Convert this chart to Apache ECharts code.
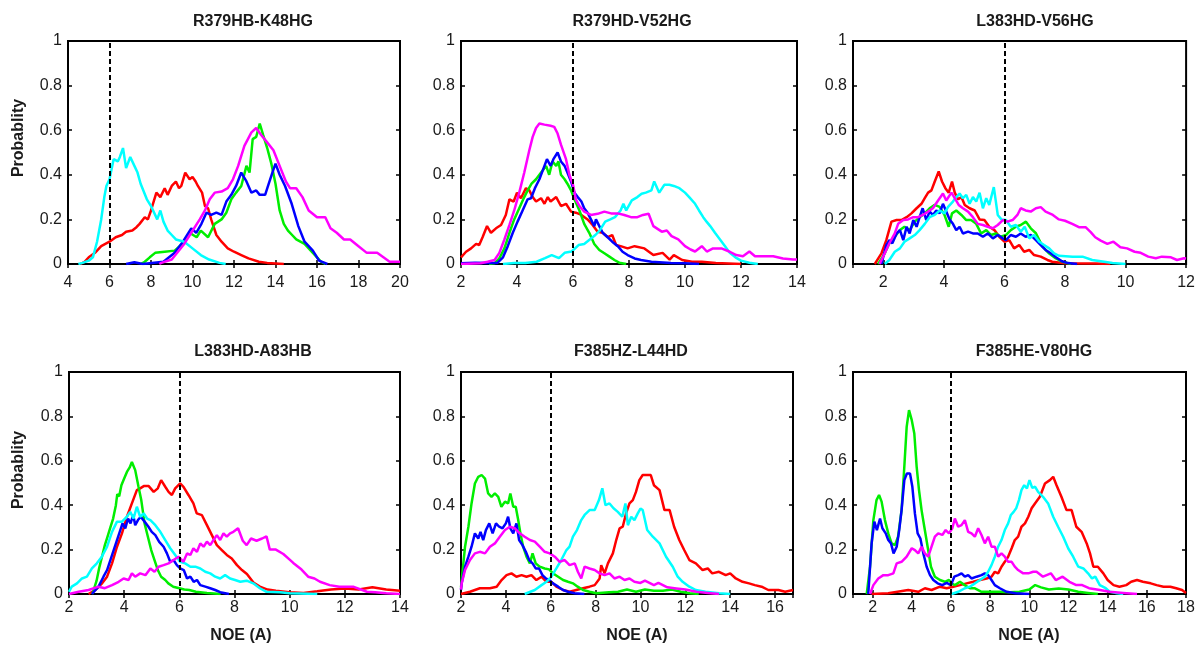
<!DOCTYPE html>
<html><head><meta charset="utf-8">
<script src="https://cdn.jsdelivr.net/npm/echarts@6/dist/echarts.min.js"></script>
<style>html,body{margin:0;padding:0;background:#fff}#c{width:1198px;height:645px}</style>
</head><body><div id="c"></div>
<script>
// ---------- data ----------
const titles = ['R379HB-K48HG','R379HD-V52HG','L383HD-V56HG','L383HD-A83HB','F385HZ-L44HD','F385HE-V80HG'];
const xMins = [4, 2, 1, 2, 2, 1];
const xMaxs = [20, 14, 12, 14, 16.8, 18];
const cutoff = 6;
const yLabel = 'Probablity';
const xLabel = 'NOE (A)';
const seriesNames = ['red','green','blue','cyan','magenta'];

const p1Red = [[4.6,0],[4.8,0.01],[5.0,0.03],[5.3,0.05],[5.6,0.08],[6.0,0.1],[6.3,0.12],[6.6,0.13],[6.8,0.145],[7.1,0.15],[7.3,0.165],[7.45,0.18],[7.7,0.21],[7.85,0.2],[8.0,0.24],[8.26,0.32],[8.45,0.3],[8.66,0.34],[8.8,0.31],[9.0,0.35],[9.2,0.37],[9.35,0.34],[9.46,0.35],[9.65,0.41],[9.86,0.38],[10.0,0.39],[10.15,0.37],[10.26,0.35],[10.46,0.32],[10.6,0.26],[10.75,0.25],[10.9,0.2],[11.15,0.13],[11.4,0.1],[11.7,0.07],[12.0,0.055],[12.35,0.04],[12.7,0.025],[13.2,0.01],[13.6,0.005],[14.4,0]];
const p1Green = [[7.5,0],[7.7,0.01],[7.94,0.03],[8.2,0.05],[8.66,0.055],[9.14,0.06],[9.5,0.09],[9.86,0.14],[10.2,0.12],[10.4,0.15],[10.75,0.12],[11.07,0.18],[11.4,0.2],[11.63,0.23],[11.87,0.29],[12.1,0.32],[12.35,0.35],[12.6,0.44],[12.75,0.41],[12.9,0.56],[13.07,0.57],[13.24,0.63],[13.4,0.58],[13.6,0.52],[13.8,0.45],[14.0,0.36],[14.2,0.24],[14.4,0.18],[14.6,0.15],[14.8,0.13],[15.0,0.11],[15.2,0.1],[15.4,0.09],[15.6,0.07],[15.8,0.05],[16.0,0.03],[16.2,0.01],[16.4,0]];
const p1Blue = [[6.8,0],[7.2,0.008],[7.6,0],[8.6,0.01],[9.14,0.05],[9.54,0.1],[9.94,0.16],[10.18,0.14],[10.43,0.18],[10.67,0.23],[10.9,0.22],[11.15,0.23],[11.4,0.22],[11.63,0.28],[11.87,0.31],[12.1,0.35],[12.35,0.41],[12.6,0.37],[12.84,0.32],[13.07,0.33],[13.24,0.31],[13.5,0.31],[13.64,0.35],[13.85,0.41],[14.0,0.45],[14.2,0.4],[14.46,0.35],[14.78,0.27],[15.1,0.17],[15.4,0.1],[15.8,0.06],[16.1,0.015],[16.5,0]];
const p1Cyan = [[4.5,0],[4.7,0.005],[5.0,0.015],[5.2,0.03],[5.4,0.1],[5.6,0.2],[5.75,0.3],[5.85,0.35],[6.0,0.38],[6.2,0.47],[6.4,0.46],[6.5,0.48],[6.65,0.52],[6.8,0.43],[7.0,0.48],[7.2,0.44],[7.35,0.41],[7.5,0.36],[7.8,0.29],[8.0,0.26],[8.3,0.2],[8.45,0.24],[8.6,0.19],[8.8,0.15],[9.0,0.13],[9.2,0.11],[9.6,0.1],[10.0,0.07],[10.4,0.04],[10.8,0.02],[11.3,0.005],[11.6,0]];
const p1Magenta = [[8.4,0],[8.5,0.005],[9.0,0.02],[9.3,0.055],[9.6,0.09],[9.94,0.14],[10.35,0.2],[10.6,0.24],[10.83,0.29],[11.07,0.32],[11.4,0.325],[11.7,0.34],[11.95,0.38],[12.2,0.44],[12.5,0.53],[12.84,0.59],[13.07,0.61],[13.3,0.58],[13.56,0.55],[13.9,0.51],[14.2,0.44],[14.5,0.37],[14.7,0.34],[15.0,0.34],[15.3,0.3],[15.6,0.24],[16.0,0.21],[16.4,0.21],[16.65,0.16],[16.95,0.14],[17.3,0.11],[17.6,0.11],[18.0,0.08],[18.4,0.05],[18.9,0.05],[19.2,0.03],[19.5,0.01],[20,0.01]];

const p2Red = [[2.0,0.03],[2.18,0.055],[2.36,0.07],[2.54,0.09],[2.65,0.085],[2.77,0.12],[2.93,0.17],[3.07,0.14],[3.25,0.16],[3.43,0.175],[3.6,0.22],[3.73,0.29],[3.88,0.28],[4.0,0.32],[4.14,0.295],[4.32,0.34],[4.44,0.33],[4.56,0.3],[4.68,0.28],[4.86,0.295],[4.98,0.27],[5.1,0.3],[5.2,0.28],[5.4,0.3],[5.57,0.26],[5.75,0.27],[5.93,0.235],[6.1,0.23],[6.3,0.22],[6.52,0.2],[6.7,0.175],[6.88,0.145],[7.06,0.14],[7.24,0.12],[7.4,0.13],[7.54,0.085],[7.7,0.08],[7.95,0.07],[8.2,0.08],[8.55,0.07],[8.87,0.04],[9.2,0.05],[9.45,0.02],[9.6,0.04],[9.9,0.018],[10.25,0.01],[10.6,0.01],[11.1,0.005],[12,0]];
const p2Green = [[3.0,0],[3.19,0.003],[3.37,0.025],[3.55,0.07],[3.73,0.14],[3.9,0.2],[4.08,0.25],[4.26,0.3],[4.38,0.33],[4.52,0.36],[4.68,0.38],[4.86,0.41],[5.04,0.44],[5.15,0.4],[5.27,0.46],[5.4,0.44],[5.48,0.46],[5.57,0.4],[5.7,0.38],[5.8,0.36],[5.93,0.33],[6.05,0.29],[6.23,0.24],[6.4,0.18],[6.58,0.14],[6.76,0.09],[6.94,0.063],[7.12,0.048],[7.3,0.033],[7.48,0.018],[7.65,0.006],[7.9,0]];
const p2Blue = [[2.0,0.003],[2.5,0.006],[3.0,0.004],[3.3,0.005],[3.5,0.03],[3.67,0.08],[3.85,0.14],[4.02,0.19],[4.2,0.24],[4.38,0.29],[4.5,0.295],[4.64,0.34],[4.8,0.38],[4.95,0.43],[5.07,0.47],[5.2,0.44],[5.3,0.47],[5.45,0.5],[5.57,0.46],[5.7,0.44],[5.8,0.41],[5.93,0.37],[6.05,0.32],[6.17,0.3],[6.3,0.28],[6.4,0.25],[6.52,0.23],[6.64,0.2],[6.76,0.17],[6.82,0.2],[6.94,0.17],[7.06,0.14],[7.24,0.12],[7.4,0.1],[7.6,0.08],[7.77,0.055],[7.95,0.04],[8.2,0.025],[8.43,0.018],[8.8,0.01],[9.5,0.005],[10,0.003],[10.5,0]];
const p2Cyan = [[3.5,0],[3.9,0.005],[4.3,0.005],[4.7,0.01],[5.0,0.026],[5.24,0.04],[5.5,0.026],[5.7,0.05],[5.95,0.056],[6.2,0.085],[6.4,0.09],[6.6,0.11],[6.8,0.13],[6.95,0.15],[7.15,0.19],[7.33,0.2],[7.5,0.21],[7.7,0.24],[7.8,0.27],[7.9,0.24],[8.1,0.285],[8.3,0.3],[8.45,0.315],[8.6,0.32],[8.8,0.33],[8.9,0.37],[9.08,0.32],[9.26,0.355],[9.44,0.355],[9.6,0.35],[9.8,0.34],[10.0,0.32],[10.15,0.3],[10.36,0.27],[10.5,0.24],[10.65,0.21],[10.77,0.19],[10.9,0.17],[11.07,0.14],[11.25,0.11],[11.43,0.08],[11.6,0.05],[11.8,0.03],[12.0,0.015],[12.3,0.006],[12.6,0]];
const p2Magenta = [[2.0,0],[2.7,0.003],[2.95,0.01],[3.2,0.018],[3.37,0.05],[3.55,0.11],[3.73,0.175],[3.9,0.24],[4.08,0.32],[4.26,0.41],[4.44,0.51],[4.56,0.57],[4.68,0.61],[4.8,0.63],[4.98,0.625],[5.2,0.62],[5.33,0.615],[5.45,0.585],[5.57,0.535],[5.75,0.47],[5.87,0.4],[6.0,0.355],[6.1,0.29],[6.23,0.26],[6.4,0.235],[6.64,0.22],[6.88,0.225],[7.12,0.235],[7.36,0.227],[7.6,0.227],[7.83,0.22],[8.07,0.21],[8.3,0.21],[8.5,0.22],[8.7,0.225],[8.87,0.17],[9.17,0.145],[9.35,0.15],[9.52,0.125],[9.76,0.11],[10.0,0.08],[10.2,0.065],[10.36,0.056],[10.6,0.08],[10.78,0.056],[11.0,0.07],[11.3,0.07],[11.6,0.055],[11.83,0.04],[12.07,0.035],[12.3,0.056],[12.5,0.035],[12.8,0.035],[13.15,0.035],[13.5,0.025],[13.86,0.02],[14,0.02]];

const p3Red = [[1.72,0],[1.94,0.048],[2.1,0.107],[2.27,0.19],[2.44,0.197],[2.6,0.197],[2.77,0.21],[2.93,0.227],[3.1,0.25],[3.26,0.27],[3.37,0.295],[3.48,0.32],[3.59,0.33],[3.7,0.37],[3.83,0.415],[3.94,0.37],[4.05,0.34],[4.16,0.32],[4.27,0.37],[4.36,0.32],[4.47,0.29],[4.58,0.3],[4.69,0.265],[4.85,0.25],[5.02,0.24],[5.18,0.2],[5.34,0.197],[5.5,0.167],[5.67,0.152],[5.83,0.122],[6.0,0.1],[6.16,0.107],[6.32,0.07],[6.49,0.085],[6.65,0.055],[6.82,0.063],[6.98,0.04],[7.2,0.033],[7.42,0.018],[7.58,0.01],[8.0,0.003],[9.0,0.002],[9.5,0]];
const p3Green = [[1.83,0],[2.05,0.048],[2.2,0.093],[2.38,0.122],[2.55,0.152],[2.7,0.167],[2.87,0.152],[3.04,0.19],[3.2,0.21],[3.37,0.227],[3.53,0.25],[3.7,0.265],[3.86,0.256],[4.02,0.22],[4.16,0.167],[4.27,0.227],[4.41,0.24],[4.58,0.22],[4.74,0.197],[4.9,0.197],[5.07,0.18],[5.23,0.137],[5.4,0.152],[5.56,0.13],[5.72,0.137],[5.88,0.122],[6.05,0.13],[6.21,0.152],[6.38,0.167],[6.54,0.175],[6.71,0.19],[6.87,0.16],[7.04,0.138],[7.26,0.078],[7.48,0.047],[7.7,0.025],[7.92,0.01],[8.2,0]];
const p3Blue = [[1.94,0],[2.1,0.085],[2.2,0.107],[2.3,0.093],[2.44,0.137],[2.55,0.152],[2.66,0.107],[2.77,0.167],[2.87,0.137],[2.99,0.197],[3.1,0.167],[3.2,0.21],[3.3,0.25],[3.42,0.197],[3.53,0.235],[3.64,0.22],[3.75,0.24],[3.86,0.227],[3.97,0.27],[4.08,0.235],[4.19,0.2],[4.3,0.18],[4.41,0.152],[4.52,0.167],[4.63,0.137],[4.8,0.145],[4.96,0.137],[5.12,0.137],[5.29,0.122],[5.45,0.137],[5.62,0.115],[5.78,0.13],[5.95,0.115],[6.05,0.107],[6.21,0.13],[6.38,0.122],[6.54,0.137],[6.7,0.122],[6.87,0.13],[7.04,0.107],[7.2,0.085],[7.36,0.063],[7.53,0.048],[7.7,0.03],[7.9,0.012],[8.1,0.004],[8.4,0]];
const p3Cyan = [[2.05,0],[2.2,0.018],[2.38,0.055],[2.55,0.07],[2.7,0.1],[2.87,0.115],[3.04,0.13],[3.2,0.152],[3.37,0.18],[3.53,0.21],[3.7,0.22],[3.86,0.24],[4.02,0.227],[4.14,0.256],[4.3,0.28],[4.41,0.3],[4.52,0.316],[4.63,0.295],[4.74,0.31],[4.85,0.27],[4.96,0.3],[5.07,0.28],[5.18,0.32],[5.29,0.25],[5.4,0.295],[5.5,0.265],[5.65,0.345],[5.78,0.22],[5.9,0.2],[6.05,0.197],[6.21,0.167],[6.38,0.175],[6.54,0.145],[6.67,0.167],[6.82,0.115],[6.98,0.13],[7.15,0.1],[7.31,0.085],[7.48,0.07],[7.64,0.048],[7.8,0.037],[8.25,0.033],[8.58,0.033],[8.9,0.018],[9.24,0.011],[9.57,0.004],[10.0,0]];
const p3Magenta = [[1.88,0],[2.05,0.048],[2.2,0.093],[2.38,0.137],[2.49,0.18],[2.66,0.197],[2.82,0.2],[2.99,0.21],[3.15,0.21],[3.31,0.22],[3.48,0.235],[3.64,0.25],[3.81,0.285],[3.97,0.316],[4.08,0.285],[4.25,0.32],[4.36,0.295],[4.49,0.265],[4.63,0.25],[4.8,0.235],[4.96,0.21],[5.12,0.18],[5.29,0.175],[5.45,0.167],[5.62,0.16],[5.78,0.175],[5.95,0.197],[6.1,0.19],[6.27,0.197],[6.43,0.22],[6.54,0.25],[6.7,0.24],[6.87,0.235],[7.04,0.25],[7.2,0.255],[7.36,0.235],[7.6,0.22],[7.8,0.2],[8.0,0.194],[8.24,0.18],[8.46,0.165],[8.68,0.165],[8.85,0.143],[9.0,0.12],[9.18,0.105],[9.4,0.09],[9.6,0.1],[9.83,0.075],[10.05,0.07],[10.3,0.055],[10.5,0.05],[10.75,0.033],[11.0,0.026],[11.2,0.033],[11.5,0.03],[11.7,0.018],[11.93,0.026],[12,0.025]];

const p4Red = [[2.71,0],[2.95,0.018],[3.2,0.048],[3.38,0.078],[3.56,0.138],[3.74,0.213],[3.92,0.273],[4.1,0.348],[4.28,0.408],[4.46,0.468],[4.58,0.476],[4.71,0.486],[4.89,0.486],[5.07,0.46],[5.22,0.476],[5.34,0.513],[5.49,0.483],[5.61,0.46],[5.73,0.446],[5.85,0.476],[6.03,0.498],[6.15,0.483],[6.33,0.446],[6.51,0.408],[6.63,0.363],[6.82,0.355],[7.0,0.31],[7.18,0.265],[7.36,0.22],[7.54,0.198],[7.72,0.176],[7.9,0.16],[8.09,0.13],[8.27,0.108],[8.45,0.09],[8.7,0.05],[8.92,0.033],[9.2,0.02],[9.5,0.015],[10,0.008],[10.5,0.005],[11,0.012],[11.5,0.02],[12,0.025],[12.5,0.02],[13,0.03],[13.5,0.02],[14,0.015]];
const p4Green = [[2.85,0],[3.0,0.06],[3.1,0.12],[3.2,0.17],[3.3,0.22],[3.4,0.26],[3.5,0.3],[3.6,0.34],[3.7,0.4],[3.75,0.45],[3.82,0.44],[3.9,0.49],[4.0,0.52],[4.1,0.55],[4.2,0.57],[4.28,0.595],[4.4,0.558],[4.52,0.483],[4.62,0.423],[4.74,0.318],[4.86,0.258],[4.98,0.198],[5.1,0.153],[5.22,0.108],[5.34,0.078],[5.49,0.063],[5.6,0.048],[5.78,0.033],[6.0,0.026],[6.18,0.02],[6.36,0.018],[6.6,0.01],[7.0,0.004],[7.5,0]];
const p4Blue = [[2.83,0],[3.07,0.033],[3.25,0.078],[3.38,0.108],[3.5,0.153],[3.62,0.198],[3.74,0.243],[3.86,0.288],[3.94,0.318],[4.04,0.296],[4.14,0.34],[4.23,0.318],[4.33,0.356],[4.4,0.31],[4.5,0.333],[4.6,0.348],[4.74,0.326],[4.88,0.303],[5.0,0.28],[5.13,0.265],[5.27,0.235],[5.43,0.213],[5.55,0.183],[5.67,0.145],[5.79,0.153],[5.91,0.13],[6.03,0.115],[6.16,0.108],[6.28,0.07],[6.4,0.078],[6.52,0.055],[6.64,0.063],[6.76,0.04],[6.94,0.033],[7.12,0.026],[7.3,0.018],[7.48,0.008],[7.8,0]];
const p4Cyan = [[2.0,0.01],[2.1,0.033],[2.29,0.048],[2.47,0.07],[2.65,0.078],[2.83,0.115],[3.01,0.138],[3.19,0.168],[3.38,0.213],[3.56,0.28],[3.74,0.326],[3.92,0.326],[4.1,0.348],[4.22,0.37],[4.34,0.34],[4.46,0.393],[4.58,0.348],[4.71,0.363],[4.83,0.34],[4.95,0.333],[5.13,0.31],[5.31,0.28],[5.49,0.243],[5.67,0.206],[5.85,0.176],[6.03,0.145],[6.21,0.138],[6.4,0.123],[6.58,0.123],[6.76,0.115],[6.94,0.1],[7.12,0.093],[7.3,0.078],[7.48,0.07],[7.66,0.085],[7.84,0.07],[8.02,0.063],[8.21,0.055],[8.44,0.06],[8.68,0.048],[8.92,0.026],[9.16,0.01],[9.65,0.008],[10,0.003],[11,0]];
const p4Magenta = [[2.0,0],[2.35,0.01],[2.71,0.018],[3.07,0.033],[3.3,0.026],[3.56,0.04],[3.8,0.055],[3.98,0.07],[4.16,0.063],[4.28,0.093],[4.4,0.078],[4.58,0.093],[4.77,0.085],[4.95,0.115],[5.1,0.1],[5.25,0.123],[5.43,0.13],[5.61,0.138],[5.79,0.153],[5.97,0.168],[6.15,0.145],[6.28,0.183],[6.4,0.176],[6.51,0.206],[6.64,0.19],[6.76,0.228],[6.88,0.213],[7.0,0.236],[7.12,0.22],[7.24,0.243],[7.36,0.265],[7.48,0.243],[7.6,0.273],[7.72,0.258],[7.84,0.273],[7.96,0.28],[8.13,0.296],[8.3,0.24],[8.44,0.22],[8.6,0.25],[8.8,0.24],[9.0,0.25],[9.16,0.26],[9.28,0.2],[9.5,0.2],[9.77,0.18],[10.0,0.155],[10.13,0.14],[10.43,0.11],[10.67,0.078],[10.9,0.07],[11.1,0.055],[11.45,0.04],[11.8,0.033],[12.3,0.033],[12.8,0.01],[13.1,0.008],[13.5,0.003],[14,0]];

const p5Red = [[2.0,0],[2.4,0.01],[2.84,0.026],[3.29,0.026],[3.59,0.033],[3.81,0.063],[4.03,0.085],[4.25,0.093],[4.47,0.078],[4.7,0.085],[4.92,0.078],[5.14,0.085],[5.36,0.063],[5.59,0.078],[5.81,0.055],[6.03,0.055],[6.25,0.033],[6.55,0.018],[6.84,0.01],[7.14,0.018],[7.44,0.026],[7.73,0.033],[7.96,0.04],[8.18,0.07],[8.25,0.13],[8.4,0.093],[8.55,0.138],[8.77,0.183],[8.92,0.243],[9.07,0.296],[9.21,0.303],[9.36,0.363],[9.51,0.408],[9.66,0.423],[9.8,0.46],[9.95,0.513],[10.1,0.536],[10.46,0.536],[10.6,0.49],[10.85,0.468],[11.07,0.378],[11.3,0.378],[11.5,0.303],[11.73,0.243],[11.95,0.198],[12.18,0.153],[12.47,0.138],[12.77,0.108],[13.0,0.115],[13.2,0.093],[13.5,0.1],[13.8,0.085],[14.0,0.093],[14.25,0.07],[14.55,0.055],[14.84,0.048],[15.1,0.04],[15.4,0.033],[15.7,0.018],[16.15,0.018],[16.45,0.01],[16.8,0.018]];
const p5Green = [[2.0,0.03],[2.03,0.063],[2.18,0.213],[2.33,0.303],[2.47,0.408],[2.62,0.498],[2.77,0.528],[2.92,0.536],[3.07,0.52],[3.21,0.453],[3.36,0.438],[3.51,0.453],[3.66,0.438],[3.8,0.393],[3.96,0.416],[4.1,0.408],[4.2,0.453],[4.33,0.393],[4.44,0.393],[4.55,0.333],[4.65,0.273],[4.77,0.213],[4.92,0.168],[5.07,0.138],[5.19,0.183],[5.33,0.138],[5.51,0.123],[5.73,0.115],[5.93,0.111],[6.1,0.093],[6.33,0.078],[6.55,0.063],[6.77,0.055],[6.99,0.048],[7.2,0.033],[7.44,0.018],[7.73,0.01],[8.03,0.003],[8.6,0.008],[9.0,0.01],[9.4,0.02],[9.8,0.01],[10.2,0.02],[10.6,0.015],[11.0,0.015],[11.4,0.02],[11.8,0.01],[12.2,0.003],[12.6,0]];
const p5Blue = [[2.0,0.02],[2.03,0.048],[2.18,0.123],[2.33,0.168],[2.47,0.213],[2.62,0.273],[2.77,0.25],[2.87,0.28],[2.99,0.243],[3.11,0.288],[3.26,0.318],[3.41,0.273],[3.56,0.318],[3.7,0.303],[3.85,0.296],[4.0,0.318],[4.1,0.348],[4.2,0.296],[4.33,0.273],[4.47,0.318],[4.59,0.243],[4.74,0.22],[4.89,0.19],[5.04,0.153],[5.19,0.138],[5.33,0.115],[5.48,0.115],[5.63,0.085],[5.78,0.07],[5.93,0.063],[6.1,0.048],[6.33,0.033],[6.55,0.018],[6.77,0.01],[7.07,0.003],[7.5,0]];
const p5Cyan = [[4.84,0],[5.29,0.018],[5.59,0.04],[5.81,0.055],[6.03,0.078],[6.25,0.115],[6.47,0.153],[6.7,0.198],[6.84,0.213],[6.99,0.258],[7.17,0.288],[7.36,0.333],[7.51,0.356],[7.73,0.378],[7.96,0.378],[8.15,0.423],[8.3,0.476],[8.44,0.4],[8.62,0.408],[8.8,0.386],[8.99,0.37],[9.19,0.348],[9.33,0.408],[9.44,0.31],[9.59,0.348],[9.73,0.333],[9.88,0.363],[10.0,0.385],[10.1,0.378],[10.3,0.288],[10.55,0.258],[10.85,0.228],[11.14,0.168],[11.44,0.123],[11.66,0.078],[11.88,0.055],[12.18,0.033],[12.47,0.018],[12.9,0.01],[13.5,0.003],[14,0]];
const p5Magenta = [[2.0,0.02],[2.03,0.048],[2.18,0.108],[2.4,0.153],[2.62,0.183],[2.84,0.19],[3.07,0.183],[3.29,0.213],[3.51,0.228],[3.73,0.258],[3.96,0.288],[4.18,0.303],[4.4,0.296],[4.62,0.273],[4.84,0.258],[5.07,0.243],[5.29,0.236],[5.51,0.213],[5.73,0.19],[5.96,0.183],[6.18,0.168],[6.4,0.145],[6.62,0.153],[6.84,0.13],[7.07,0.138],[7.21,0.1],[7.36,0.07],[7.51,0.123],[7.73,0.115],[7.96,0.108],[8.18,0.093],[8.4,0.085],[8.62,0.093],[8.84,0.07],[9.07,0.078],[9.29,0.063],[9.51,0.07],[9.73,0.055],[10.0,0.05],[10.2,0.06],[10.6,0.04],[10.8,0.05],[11.2,0.03],[11.6,0.025],[12.0,0.02],[12.5,0.01],[13.0,0.005],[13.5,0]];

const p6Red = [[1.95,0],[2.8,0.003],[3.82,0.018],[4.33,0.01],[4.67,0.026],[5.01,0.018],[5.44,0.033],[5.78,0.026],[6.12,0.033],[6.46,0.04],[6.8,0.048],[7.14,0.055],[7.48,0.063],[7.82,0.07],[8.07,0.078],[8.24,0.1],[8.41,0.093],[8.58,0.123],[8.75,0.145],[8.92,0.168],[9.1,0.206],[9.26,0.243],[9.43,0.258],[9.6,0.303],[9.78,0.318],[9.95,0.348],[10.12,0.386],[10.29,0.408],[10.54,0.438],[10.8,0.498],[11.05,0.513],[11.22,0.528],[11.39,0.49],[11.64,0.438],[11.9,0.378],[12.16,0.378],[12.4,0.303],[12.67,0.28],[12.93,0.228],[13.1,0.183],[13.27,0.123],[13.5,0.123],[13.78,0.093],[14.0,0.063],[14.3,0.04],[14.6,0.033],[14.95,0.04],[15.2,0.055],[15.5,0.063],[15.8,0.055],[16.2,0.048],[16.5,0.04],[16.85,0.033],[17.2,0.033],[17.5,0.026],[17.8,0.018],[18,0.005]];
const p6Green = [[1.7,0],[1.87,0.123],[2.04,0.333],[2.2,0.423],[2.33,0.446],[2.46,0.416],[2.63,0.333],[2.8,0.273],[2.97,0.228],[3.14,0.22],[3.3,0.258],[3.48,0.378],[3.62,0.573],[3.74,0.753],[3.86,0.828],[4.0,0.783],[4.13,0.723],[4.25,0.573],[4.37,0.468],[4.5,0.378],[4.64,0.303],[4.81,0.213],[4.98,0.123],[5.18,0.078],[5.44,0.063],[5.69,0.055],[5.9,0.063],[6.03,0.048],[6.2,0.04],[6.46,0.055],[6.7,0.04],[6.97,0.026],[7.2,0.026],[7.56,0.01],[8.07,0.01],[8.5,0.01],[9.0,0.008],[9.5,0.01],[10.0,0.02],[10.3,0.04],[10.6,0.03],[11.0,0.02],[11.5,0.025],[12.0,0.02],[12.5,0.01],[13.0,0.005],[13.5,0]];
const p6Blue = [[1.78,0],[1.95,0.228],[2.09,0.326],[2.22,0.288],[2.38,0.34],[2.5,0.296],[2.67,0.273],[2.8,0.243],[2.94,0.228],[3.07,0.183],[3.23,0.213],[3.36,0.288],[3.48,0.378],[3.62,0.513],[3.75,0.543],[3.91,0.543],[4.03,0.483],[4.16,0.363],[4.3,0.273],[4.44,0.25],[4.59,0.183],[4.76,0.123],[4.93,0.085],[5.1,0.063],[5.32,0.048],[5.56,0.04],[5.78,0.05],[6.0,0.04],[6.17,0.078],[6.37,0.085],[6.54,0.093],[6.71,0.078],[6.88,0.085],[7.05,0.07],[7.31,0.078],[7.56,0.085],[7.73,0.093],[7.9,0.085],[8.07,0.063],[8.24,0.04],[8.5,0.026],[8.84,0.01],[9.3,0.003],[10,0]];
const p6Cyan = [[6.03,0],[6.37,0.01],[6.71,0.026],[6.97,0.033],[7.22,0.048],[7.48,0.063],[7.73,0.078],[7.9,0.1],[8.07,0.13],[8.24,0.168],[8.41,0.213],[8.58,0.243],[8.75,0.288],[8.92,0.318],[9.06,0.356],[9.2,0.37],[9.33,0.386],[9.47,0.423],[9.6,0.468],[9.74,0.49],[9.88,0.476],[10.01,0.513],[10.15,0.478],[10.3,0.483],[10.45,0.46],[10.7,0.438],[10.96,0.408],[11.22,0.348],[11.47,0.303],[11.73,0.258],[11.99,0.205],[12.24,0.168],[12.5,0.123],[12.76,0.115],[13.0,0.093],[13.2,0.07],[13.37,0.078],[13.6,0.04],[13.9,0.026],[14.1,0.01],[14.4,0.005],[14.8,0]];
const p6Magenta = [[1.87,0],[2.04,0.04],[2.29,0.07],[2.55,0.085],[2.8,0.085],[3.06,0.093],[3.23,0.138],[3.48,0.145],[3.74,0.168],[4.0,0.206],[4.16,0.198],[4.33,0.183],[4.5,0.213],[4.67,0.183],[4.84,0.168],[5.01,0.213],[5.18,0.258],[5.35,0.273],[5.56,0.266],[5.73,0.288],[5.9,0.273],[6.07,0.296],[6.2,0.34],[6.37,0.303],[6.54,0.31],[6.71,0.333],[6.88,0.28],[7.05,0.273],[7.22,0.258],[7.39,0.296],[7.56,0.266],[7.73,0.228],[7.9,0.258],[8.07,0.213],[8.24,0.213],[8.41,0.168],[8.58,0.183],[8.75,0.168],[8.92,0.145],[9.1,0.145],[9.26,0.123],[9.43,0.108],[9.69,0.093],[9.95,0.093],[10.2,0.1],[10.37,0.1],[10.7,0.078],[11.1,0.093],[11.35,0.063],[11.7,0.078],[12.05,0.055],[12.4,0.04],[12.7,0.04],[13.05,0.026],[13.6,0.018],[14.1,0.01],[14.8,0.005],[15.5,0]];

// ---------- layout / style ----------
const grids = [
  {left:68,  top:41,  width:332, height:223},
  {left:461, top:41,  width:336, height:223},
  {left:853, top:41,  width:334, height:223},
  {left:69,  top:372, width:331, height:222},
  {left:461, top:372, width:332, height:222},
  {left:853, top:372, width:333, height:222}
];
const titlePos = [[253,22],[632,22],[1035,22],[253,352],[631,352],[1034,352]];
const colors = {red:'#ff0000', green:'#00ee00', blue:'#0000ff', cyan:'#00ffff', magenta:'#ff00ff'};
const panelData = [
  {red:p1Red, green:p1Green, blue:p1Blue, cyan:p1Cyan, magenta:p1Magenta},
  {red:p2Red, green:p2Green, blue:p2Blue, cyan:p2Cyan, magenta:p2Magenta},
  {red:p3Red, green:p3Green, blue:p3Blue, cyan:p3Cyan, magenta:p3Magenta},
  {red:p4Red, green:p4Green, blue:p4Blue, cyan:p4Cyan, magenta:p4Magenta},
  {red:p5Red, green:p5Green, blue:p5Blue, cyan:p5Cyan, magenta:p5Magenta},
  {red:p6Red, green:p6Green, blue:p6Blue, cyan:p6Cyan, magenta:p6Magenta}
];
const FONT = '"Liberation Sans", Arial, Helvetica, sans-serif';
const TXT = '#1a1a1a';

const option = {animation:false, grid:[], xAxis:[], yAxis:[], series:[], graphic:[]};
const xFmt = v => (Math.abs(v % 2) < 1e-6 ? String(Math.round(v)) : '');
const yFmt = v => (v === 0 ? '0' : (Math.abs(v-1) < 1e-6 ? '1' : v.toFixed(1)));

grids.forEach((g, i) => {
  option.grid.push(Object.assign({show:true, borderColor:'#000', borderWidth:2, backgroundColor:'transparent'}, g));
  const bottomRow = i >= 3;
  const xCommon = {type:'value', gridIndex:i, min:xMins[i], max:xMaxs[i], splitLine:{show:false}, axisLine:{show:false}};
  if (xMins[i] % 2 === 0) { xCommon.interval = 2; } else { xCommon.splitNumber = Math.round((xMaxs[i]-xMins[i])/2); }
  option.xAxis.push(Object.assign({}, xCommon, {position:'bottom',
    axisTick:{inside:true, length:4, lineStyle:{color:'#000', width:1.5}},
    axisLabel:{formatter:xFmt, fontSize:16, color:TXT, fontFamily:FONT, margin: bottomRow ? 6 : 11, showMinLabel:true, showMaxLabel:true}}));
  option.xAxis.push(Object.assign({}, xCommon, {position:'top',
    axisTick:{inside:true, length:4, lineStyle:{color:'#000', width:1.5}}, axisLabel:{show:false}}));
  const yCommon = {type:'value', gridIndex:i, min:0, max:1, interval:0.2, splitLine:{show:false}, axisLine:{show:false}};
  option.yAxis.push(Object.assign({}, yCommon, {position:'left',
    axisTick:{inside:true, length:4, lineStyle:{color:'#000', width:1.5}},
    axisLabel:{formatter:yFmt, fontSize:16, color:TXT, fontFamily:FONT, margin:6}}));
  option.yAxis.push(Object.assign({}, yCommon, {position:'right',
    axisTick:{inside:true, length:4, lineStyle:{color:'#000', width:1.5}}, axisLabel:{show:false}}));

  seriesNames.forEach((name, k) => {
    const s = {type:'line', name:titles[i]+'-'+name, xAxisIndex:2*i, yAxisIndex:2*i,
      data:panelData[i][name], showSymbol:false, symbol:'none', clip:true, z:2+k,
      lineStyle:{color:colors[name], width:2.5}, itemStyle:{color:colors[name]}};
    if (k === 0) {
      s.markLine = {silent:true, symbol:'none', z:10, label:{show:false},
        lineStyle:{type:[5,3], color:'#000', width:2}, data:[{xAxis:cutoff}]};
    }
    option.series.push(s);
  });

  option.graphic.push({type:'text', x:titlePos[i][0], y:titlePos[i][1],
    style:{text:titles[i], align:'center', verticalAlign:'middle', fontSize:16, fontWeight:'bold', fontFamily:FONT, fill:TXT}});
  if (i === 0 || i === 3) {
    option.graphic.push({type:'text', x:19, y: i === 0 ? 138 : 470, rotation:Math.PI/2,
      style:{text:yLabel, align:'center', verticalAlign:'middle', fontSize:16, fontWeight:'bold', fontFamily:FONT, fill:TXT}});
  }
  if (bottomRow) {
    option.graphic.push({type:'text', x:[241,637,1029][i-3], y:636,
      style:{text:xLabel, align:'center', verticalAlign:'middle', fontSize:16, fontWeight:'bold', fontFamily:FONT, fill:TXT}});
  }
});

const chart = echarts.init(document.getElementById('c'), null, {renderer:'canvas'});
chart.setOption(option);
</script>
</body></html>
